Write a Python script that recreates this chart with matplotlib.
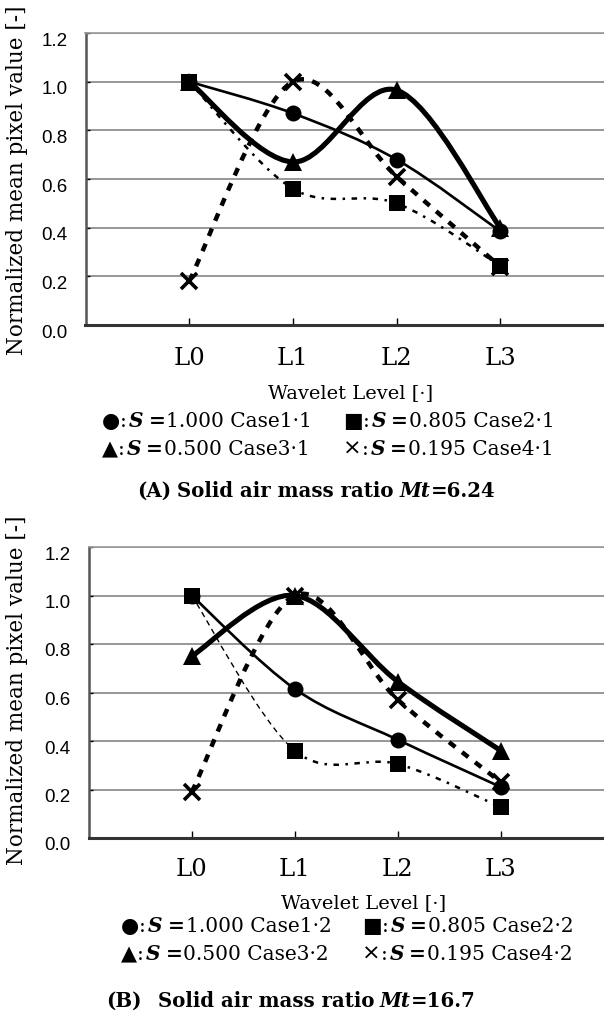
import numpy as np
import matplotlib
matplotlib.use("Agg")
import matplotlib.pyplot as plt
import matplotlib.transforms as mtransforms
from matplotlib.path import Path
from matplotlib.patches import PathPatch

W, H = 604, 1025

levels = ["L0", "L1", "L2", "L3"]
y_ticks = [0.0, 0.2, 0.4, 0.6, 0.8, 1.0, 1.2]

# (A) Mt = 6.24
case1_1 = [1.0, 0.87, 0.68, 0.385]
case2_1 = [1.0, 0.56, 0.50, 0.243]
case3_1 = [1.0, 0.67, 0.965, 0.40]
case4_1 = [0.18, 1.0, 0.61, 0.24]

# (B) Mt = 16.7
case1_2 = [1.0, 0.615, 0.405, 0.21]
case2_2 = [1.0, 0.36, 0.305, 0.127]
case3_2 = [0.75, 1.0, 0.645, 0.36]
case4_2 = [0.19, 1.0, 0.57, 0.23]

s_values = ["1.000", "0.805", "0.500", "0.195"]

SERIF = "DejaVu Serif"
SANS = "Liberation Sans"

styles = {
    "circle": dict(marker="o", ms=11.5, mew=0, lw=1.9, ls="solid"),
    "square": dict(marker="s", ms=12, mew=0, lw=1.8, ls=(0, (2.2, 2.6, 1.0, 2.6))),
    "triangle": dict(marker="^", ms=13, mew=0, lw=3.7, ls="solid"),
    "cross": dict(marker="x", ms=12, mew=2.6, lw=3.2, ls=(0, (1.8, 1.9))),
}


def smooth_segments(xs, ys):
    # excel-like smoothed line: catmull-rom turned into cubic bezier pieces
    p = np.column_stack([xs, ys]).astype(float)
    n = len(p)
    segs = []
    for i in range(n - 1):
        p0 = p[max(i - 1, 0)]
        p1 = p[i]
        p2 = p[i + 1]
        p3 = p[min(i + 2, n - 1)]
        segs.append([p1, p1 + (p2 - p0) / 6, p2 - (p3 - p1) / 6, p2])
    return segs


def draw_curve(ax, segs, lw, ls, z):
    verts = [segs[0][0]]
    codes = [Path.MOVETO]
    for s in segs:
        verts += [s[1], s[2], s[3]]
        codes += [Path.CURVE4] * 3
    patch = PathPatch(Path(verts, codes), fill=False, edgecolor="black",
                      lw=lw, linestyle=ls, capstyle="butt", zorder=z)
    ax.add_patch(patch)


def draw_series(ax, values, kind, z, first_seg_style=None):
    st = styles[kind]
    x = np.arange(len(values))
    segs = smooth_segments(x, values)
    if first_seg_style is None:
        draw_curve(ax, segs, st["lw"], st["ls"], z)
    else:
        draw_curve(ax, segs[:1], first_seg_style[0], first_seg_style[1], z)
        draw_curve(ax, segs[1:], st["lw"], st["ls"], z)
    ax.plot(x, values, linestyle="none", marker=st["marker"], ms=st["ms"],
            mew=st["mew"], color="black", zorder=z + 0.5, clip_on=False)


def rich_text(fig, renderer, x_px, y_px, pieces):
    x = x_px
    for text, kw, gap in pieces:
        t = fig.text(x / W, 1 - y_px / H, text, ha="left", va="baseline", **kw)
        x += t.get_window_extent(renderer).width + gap


def setup_axes(ax, label_pad):
    ax.set_xlim(-1, 4)
    ax.set_ylim(0, 1.2)
    ax.set_xticks(range(len(levels)), levels)
    ax.set_yticks(y_ticks, [])
    ax.tick_params(axis="x", direction="in", length=5, width=1, pad=label_pad,
                   labelsize=17.5)
    ax.tick_params(axis="y", direction="in", length=3, width=1)
    for lab in ax.get_xticklabels():
        lab.set_fontfamily(SERIF)
    ax.yaxis.grid(True, color="#7a7a7a", lw=1.1)
    ax.set_axisbelow(True)
    ax.spines["right"].set_visible(False)
    ax.spines["top"].set_color("#9a9a9a")
    ax.spines["top"].set_linewidth(1.2)
    ax.spines["left"].set_color("#555555")
    ax.spines["left"].set_linewidth(1.8)
    ax.spines["bottom"].set_color("#333333")
    ax.spines["bottom"].set_linewidth(2.2)
    lab_trans = mtransforms.offset_copy(ax.get_yaxis_transform(), fig=ax.figure,
                                        x=-18, y=-8, units="dots")
    for v in y_ticks:
        ax.text(0, v, f"{v:.1f}", transform=lab_trans, ha="right", va="center",
                family=SANS, fontsize=13.5)


def legend_rows(fig, renderer, x0, x1, y_rows, case_no):
    marks = [("●", 15), ("■", 15), ("▲", 15), ("×", 16)]
    sans = dict(family="DejaVu Sans", color="black")
    serif = dict(family=SERIF, fontsize=14.5)
    bi = dict(family=SERIF, fontsize=14.5, style="italic", weight="bold")
    for k in range(4):
        row = k // 2
        x = x0 if k % 2 == 0 else x1
        mark, msize = marks[k]
        pieces = [
            (mark, dict(sans, fontsize=msize), 0),
            (":", serif, 2),
            ("S", bi, 5),
            ("=", dict(serif, weight="bold"), 1),
            (f"{s_values[k]} Case{k + 1}\u00b7{case_no}", serif, 0),
        ]
        rich_text(fig, renderer, x, y_rows[row], pieces)


fig = plt.figure(figsize=(W / 100, H / 100), dpi=100)
renderer = fig.canvas.get_renderer()

# panel (A)
axA = fig.add_axes([85.5 / W, 1 - 325 / H, (W - 85.5) / W, 292 / H])
setup_axes(axA, 16)
draw_series(axA, case1_1, "circle", 3)
draw_series(axA, case3_1, "triangle", 4)
draw_series(axA, case4_1, "cross", 5)
draw_series(axA, case2_1, "square", 6)

# panel (B)
axB = fig.add_axes([88.6 / W, 1 - 838 / H, (W - 88.6) / W, 291 / H])
setup_axes(axB, 14.5)
draw_series(axB, case2_2, "square", 3, first_seg_style=(1.0, (0, (4, 3))))
draw_series(axB, case3_2, "triangle", 4)
draw_series(axB, case4_2, "cross", 5)
draw_series(axB, case1_2, "circle", 6)

ylabel = "Normalized mean pixel value [-]"
fig.text(17 / W, 1 - 180 / H, ylabel, rotation=90, ha="center", va="center",
         family=SERIF, fontsize=15.5)
fig.text(17 / W, 1 - 690 / H, ylabel, rotation=90, ha="center", va="center",
         family=SERIF, fontsize=15.5)

fig.text(351 / W, 1 - 398 / H, "Wavelet Level [\u00b7]", ha="center",
         va="baseline", family=SERIF, fontsize=14)
fig.text(364 / W, 1 - 908 / H, "Wavelet Level [\u00b7]", ha="center",
         va="baseline", family=SERIF, fontsize=14)

legend_rows(fig, renderer, 102, 343, [427, 455], 1)
legend_rows(fig, renderer, 121, 362, [932, 960], 2)

bold = dict(family=SERIF, fontsize=14.2, weight="bold")
bold_it = dict(family=SERIF, fontsize=14.2, weight="bold", style="italic")
rich_text(fig, renderer, 137, 497, [
    ("(A)", bold, 6),
    ("Solid air mass ratio", bold, 6),
    ("Mt", bold_it, 0),
    ("=6.24", bold, 0),
])
rich_text(fig, renderer, 106, 1007, [
    ("(B)", bold, 16),
    ("Solid air mass ratio", bold, 6),
    ("Mt", bold_it, 0),
    ("=16.7", bold, 0),
])

fig.savefig("out.png", dpi=100)
